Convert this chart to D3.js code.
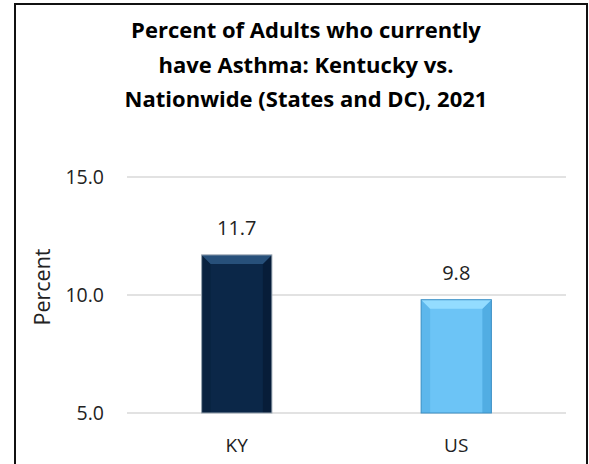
<!DOCTYPE html>
<html>
<head>
<meta charset="utf-8">
<script src="https://cdn.jsdelivr.net/npm/d3@7"></script>
<style>
  html, body { margin: 0; padding: 0; background: #fff; }
  svg { display: block; }
</style>
</head>
<body>
<svg id="chart" width="589" height="464"></svg>
<script>
// Data
const categories = ["KY", "US"];
const values = [11.7, 9.8];
const yTicks = [5.0, 10.0, 15.0];
const titleLines = [
  "Percent of Adults who currently",
  "have Asthma: Kentucky vs.",
  "Nationwide (States and DC), 2021"
];
const yAxisTitle = "Percent";

// Bar palettes: base fill, top bevel, side shade, edge
const palettes = [
  { base: "#0b2748", top: "#27507a", side: "#061c36", edge: "#9aa6b2" },
  { base: "#6cc4f6", top: "#93dcff", side: "#4ba8df", edge: "#3d8fc4" }
];

const font = "'Open Sans', 'Liberation Sans', sans-serif";
const svg = d3.select("#chart");

// Outer frame
svg.append("rect")
  .attr("x", 15).attr("y", 4)
  .attr("width", 572).attr("height", 470)
  .attr("fill", "#fff").attr("stroke", "#111").attr("stroke-width", 2);

// Title
svg.append("g").selectAll("text")
  .data(titleLines)
  .join("text")
  .attr("x", 306)
  .attr("y", (d, i) => 38 + i * 34.5)
  .attr("text-anchor", "middle")
  .attr("font-family", font)
  .attr("font-weight", "bold")
  .attr("font-size", 22)
  .attr("fill", "#000")
  .text(d => d);

// Plot area
const plot = { left: 127, right: 566, top: 177, bottom: 413 };

const x = d3.scaleBand()
  .domain(categories)
  .range([plot.left, plot.right])
  .paddingInner(0.68)
  .paddingOuter(0.34);

const y = d3.scaleLinear()
  .domain([5, 15])
  .range([plot.bottom, plot.top]);

// Gridlines
svg.append("g")
  .selectAll("line")
  .data(yTicks)
  .join("line")
  .attr("x1", plot.left).attr("x2", plot.right)
  .attr("y1", d => y(d)).attr("y2", d => y(d))
  .attr("stroke", "#d9d9d9").attr("stroke-width", 1.5);

// Y axis tick labels
const yAxis = d3.axisLeft(y)
  .tickValues(yTicks)
  .tickFormat(d3.format(".1f"))
  .tickSize(0)
  .tickPadding(0);
const yg = svg.append("g")
  .attr("transform", `translate(${plot.left - 23},0)`)
  .call(yAxis);
yg.select(".domain").remove();
yg.selectAll("text")
  .attr("font-family", font)
  .attr("font-size", 19.5)
  .attr("fill", "#222");

// Y axis title
svg.append("text")
  .attr("transform", `translate(42,287) rotate(-90)`)
  .attr("text-anchor", "middle")
  .attr("dy", "0.35em")
  .attr("font-family", font)
  .attr("font-size", 21.5)
  .attr("fill", "#222")
  .text(yAxisTitle);

// Bars with a beveled look
const bev = 9;
const bars = svg.append("g")
  .selectAll("g")
  .data(categories.map((c, i) => ({ c, v: values[i], p: palettes[i] })))
  .join("g");

bars.each(function(d) {
  const g = d3.select(this);
  const x0 = x(d.c), w = x.bandwidth();
  const y0 = y(d.v), y1 = y(5);
  g.append("rect")
    .attr("x", x0).attr("y", y0)
    .attr("width", w).attr("height", y1 - y0)
    .attr("fill", d.p.base);
  // side shading
  g.append("path")
    .attr("d", `M${x0},${y0}L${x0 + bev},${y0 + bev}L${x0 + bev},${y1}L${x0},${y1}Z`)
    .attr("fill", d.p.side).attr("opacity", 0.45);
  g.append("path")
    .attr("d", `M${x0 + w},${y0}L${x0 + w - bev},${y0 + bev}L${x0 + w - bev},${y1}L${x0 + w},${y1}Z`)
    .attr("fill", d.p.side).attr("opacity", 0.8);
  // top bevel
  g.append("path")
    .attr("d", `M${x0},${y0}L${x0 + w},${y0}L${x0 + w - bev},${y0 + bev}L${x0 + bev},${y0 + bev}Z`)
    .attr("fill", d.p.top);
  g.append("rect")
    .attr("x", x0).attr("y", y0)
    .attr("width", w).attr("height", y1 - y0)
    .attr("fill", "none").attr("stroke", d.p.edge).attr("stroke-width", 1);
});

// Value labels
svg.append("g")
  .selectAll("text")
  .data(categories.map((c, i) => ({ c, v: values[i] })))
  .join("text")
  .attr("x", d => x(d.c) + x.bandwidth() / 2)
  .attr("y", d => y(d.v) - 20)
  .attr("text-anchor", "middle")
  .attr("font-family", font)
  .attr("font-size", 20)
  .attr("fill", "#222")
  .text(d => d3.format(".1f")(d.v));

// Category axis labels
svg.append("g")
  .selectAll("text")
  .data(categories)
  .join("text")
  .attr("x", d => x(d) + x.bandwidth() / 2)
  .attr("y", 452)
  .attr("text-anchor", "middle")
  .attr("font-family", font)
  .attr("font-size", 19)
  .attr("fill", "#222")
  .text(d => d);
</script>
</body>
</html>
